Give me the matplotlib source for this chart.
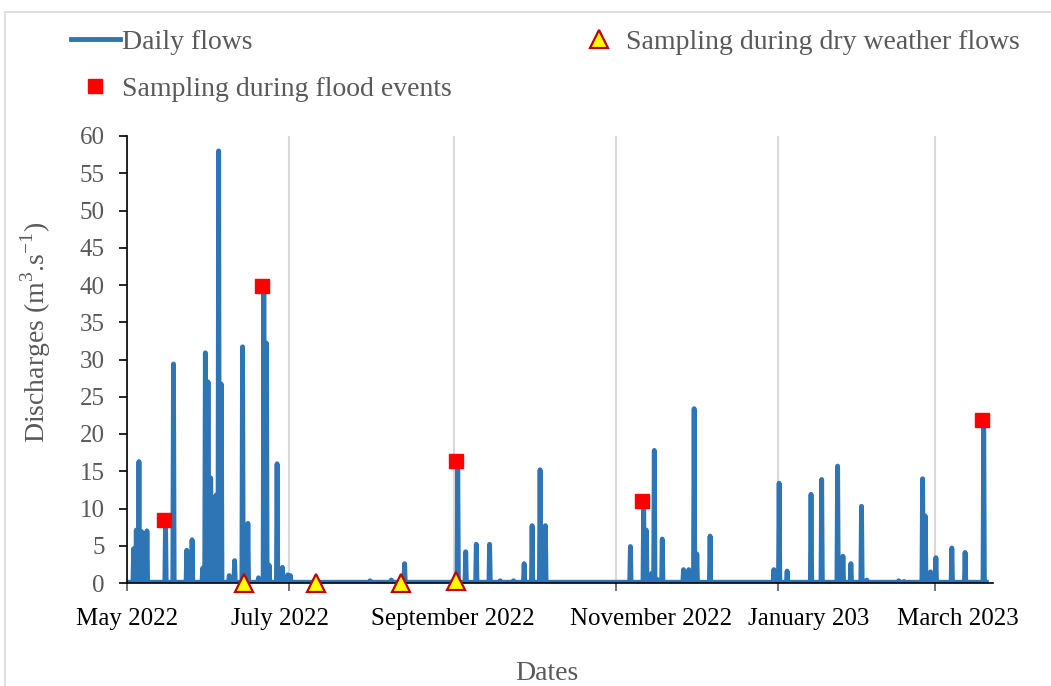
import matplotlib
matplotlib.use("Agg")
import matplotlib.pyplot as plt
import matplotlib.transforms as mtransforms
from matplotlib.patches import Rectangle
import pandas as pd

plt.rcParams['font.family'] = ['Liberation Serif', 'DejaVu Serif']
plt.rcParams['mathtext.fontset'] = 'custom'
plt.rcParams['mathtext.rm'] = 'Liberation Serif'

# Flow record: peak discharges (m3/s) of each flow event, low flow elsewhere
record_start = "2022-05-01"
record_end = "2023-03-20"
base_flow = 0.1
event_dates = [
    "2022-05-03", "2022-05-04", "2022-05-05", "2022-05-06", "2022-05-08",
    "2022-05-15", "2022-05-18", "2022-05-23", "2022-05-25", "2022-05-29",
    "2022-05-30", "2022-05-31", "2022-06-01", "2022-06-03", "2022-06-04",
    "2022-06-05", "2022-06-08", "2022-06-10", "2022-06-13", "2022-06-15",
    "2022-06-19", "2022-06-21", "2022-06-22", "2022-06-23", "2022-06-26",
    "2022-06-28", "2022-06-30", "2022-07-01", "2022-07-31", "2022-08-08",
    "2022-08-13", "2022-09-02", "2022-09-05", "2022-09-09", "2022-09-14",
    "2022-09-18", "2022-09-23", "2022-09-27", "2022-09-30", "2022-10-03",
    "2022-10-05", "2022-11-06", "2022-11-11", "2022-11-12", "2022-11-14",
    "2022-11-15", "2022-11-16", "2022-11-18", "2022-11-26", "2022-11-28",
    "2022-11-30", "2022-12-01", "2022-12-06", "2022-12-30", "2023-01-01",
    "2023-01-04", "2023-01-13", "2023-01-17", "2023-01-23", "2023-01-25",
    "2023-01-28", "2023-02-01", "2023-02-03", "2023-02-15", "2023-02-17",
    "2023-02-24", "2023-02-25", "2023-02-27", "2023-03-01", "2023-03-07",
    "2023-03-12", "2023-03-19",
]
event_flows = [
    4.6, 7.1, 16.3, 6.9, 7.0,
    8.3, 29.4, 4.4, 5.8, 2.0,
    30.9, 27.0, 14.1, 11.8, 58.0,
    26.7, 1.0, 3.0, 31.7, 8.0,
    0.7, 39.8, 32.2, 2.4, 16.0,
    2.1, 1.1, 1.0, 0.3, 0.4,
    2.6, 16.4, 4.2, 5.2, 5.2,
    0.3, 0.3, 2.6, 7.7, 15.2,
    7.7, 4.9, 10.5, 7.1, 1.3,
    17.8, 0.5, 5.9, 1.8, 1.8,
    23.4, 3.9, 6.3, 1.8, 13.4,
    1.6, 11.9, 13.9, 15.7, 3.6,
    2.6, 10.3, 0.4, 0.3, 0.2,
    14.0, 9.0, 1.5, 3.4, 4.7,
    4.1, 21.9,
]

# Sampling campaigns
flood_dates = ["2022-05-15", "2022-06-21", "2022-09-02", "2022-11-11", "2023-03-19"]
flood_flows = [8.5, 39.8, 16.4, 11.0, 21.9]
dry_dates = ["2022-06-14", "2022-07-11", "2022-08-12", "2022-09-02"]
dry_flows = [0.0, 0.0, 0.0, 0.3]

tick_dates = ["2022-05-01", "2022-07-01", "2022-09-01", "2022-11-01", "2023-01-01", "2023-03-01"]
tick_labels = ["May 2022", "July 2022", "September 2022", "November 2022", "January 203", "March 2023"]

# hydrograph on a 6-hourly step so each event shows as a narrow spike
times = pd.date_range(record_start, record_end + " 12:00", freq="6h")
flows = pd.Series(base_flow, index=times)
for d, q in zip(event_dates, event_flows):
    flows[pd.Timestamp(d) + pd.Timedelta(hours=12)] = q

fig = plt.figure(figsize=(10.51, 6.86), dpi=100)
fig.patches.append(Rectangle((5 / 1051, -0.1), 1.2, (686 - 12) / 686 + 0.1,
                             transform=fig.transFigure, fill=False,
                             edgecolor="#d9d9d9", linewidth=1.2))
ax = fig.add_axes([127 / 1051, 103 / 686, 866 / 1051, 447 / 686])

blue = "#2E75B6"
gray = "#595959"
ax.plot(flows.index, flows.values, color=blue, linewidth=3.5,
        solid_joinstyle="round", label="Daily flows", zorder=2)
ax.plot(pd.to_datetime(flood_dates), flood_flows, linestyle="none", marker="s",
        markersize=10, color="#FF0000", label="Sampling during flood events", zorder=4)
ax.plot(pd.to_datetime(dry_dates), dry_flows, linestyle="none", marker="^",
        markersize=13, markerfacecolor="#FFFF00", markeredgecolor="#C00000",
        markeredgewidth=1.6, label="Sampling during dry weather flows",
        zorder=4, clip_on=False)

ax.set_xlim(pd.Timestamp("2022-05-01"), pd.Timestamp("2023-03-23"))
ax.set_ylim(0, 60)
ax.set_yticks(range(0, 61, 5))
ax.set_xticks(pd.to_datetime(tick_dates))
ax.set_xticklabels(tick_labels)
ax.grid(axis="x", color="#d9d9d9", linewidth=1.5)
ax.set_axisbelow(True)

for side in ["top", "right"]:
    ax.spines[side].set_visible(False)
for side in ["left", "bottom"]:
    ax.spines[side].set_color("black")
    ax.spines[side].set_linewidth(1.2)

ax.tick_params(axis="y", direction="out", length=6, width=1.2, labelsize=18,
               labelcolor=gray, pad=10)
ax.tick_params(axis="x", direction="out", length=6, width=1.2, labelsize=18,
               labelcolor="black", color=gray, pad=12)

# nudge month labels sideways so the long names do not crowd each other
label_shift = [0, -9, -1, 35, 31, 23]
for lab, dx in zip(ax.get_xticklabels(), label_shift):
    lab.set_transform(lab.get_transform() +
                      mtransforms.ScaledTranslation(dx / 100, 0, fig.dpi_scale_trans))

ax.set_ylabel("Discharges (m$^\\mathregular{3}$.s$^\\mathregular{-1}$)",
              fontsize=20, color=gray)
ax.yaxis.set_label_coords(-0.085, 0.56)
ax.set_xlabel("Dates", fontsize=20, color=gray, labelpad=22, x=0.485)

handles, labels = ax.get_legend_handles_labels()
fig.legend(handles, labels, ncol=2, loc="upper left",
           bbox_to_anchor=(60 / 1051, 1 - 18 / 686), borderaxespad=0,
           frameon=False, fontsize=20, labelcolor=gray, handlelength=1.75,
           handletextpad=0.1, columnspacing=4.4, labelspacing=0.8)

fig.savefig("out.png", dpi=100)
